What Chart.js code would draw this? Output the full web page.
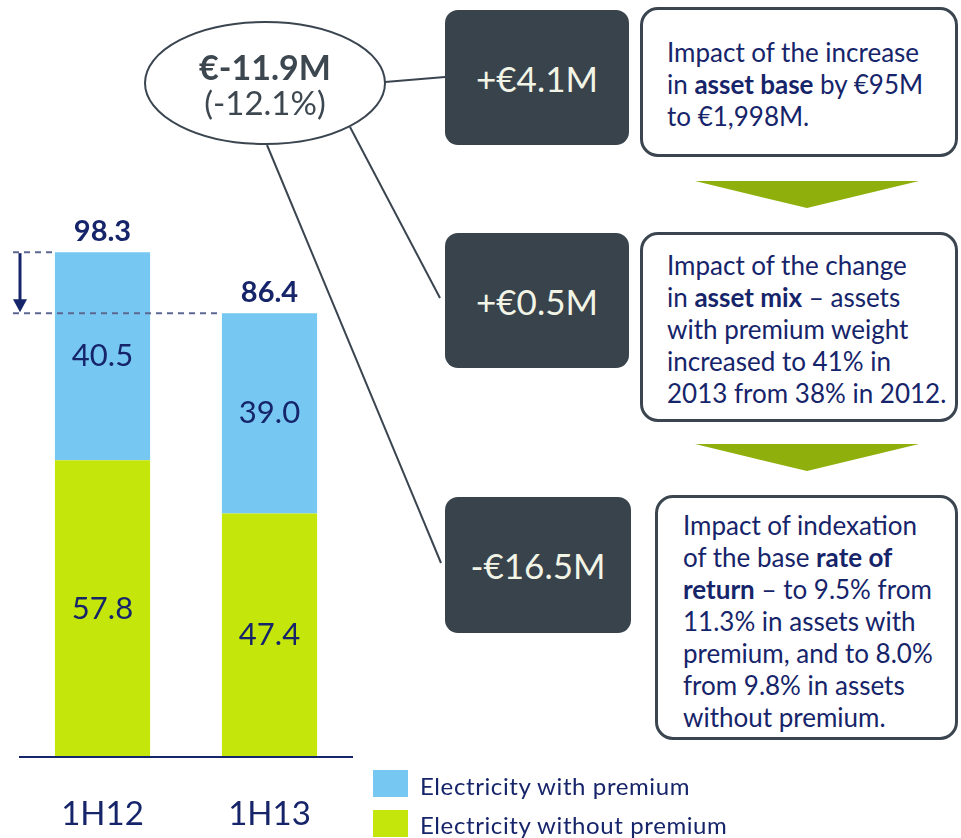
<!DOCTYPE html>
<html>
<head>
<meta charset="utf-8">
<script src="https://cdn.jsdelivr.net/npm/chart.js@4.4.1/dist/chart.umd.min.js"></script>
<style>
body{margin:0;background:#fff;font-family:"Lato",sans-serif;}
#wrap{position:relative;width:961px;height:838px;overflow:hidden;}
#myChart{position:absolute;left:0;top:0;}
#overlay{position:absolute;left:0;top:0;}
.dark{position:absolute;background:#39434c;border-radius:13px;color:#f2f5e6;font-size:35px;
  display:flex;align-items:center;justify-content:center;}
.note{position:absolute;box-sizing:border-box;border:3px solid #3a4550;border-radius:18px;background:#fff;
  color:#16246a;font-size:26px;line-height:32px;}
.note b{font-weight:bold;}
.ell{position:absolute;color:#3d4750;text-align:center;width:240px;left:145px;}
.leg{position:absolute;left:373px;width:35px;height:27px;}
.legtxt{position:absolute;left:420px;color:#16246a;font-size:24px;letter-spacing:0.6px;line-height:27px;}
</style>
</head>
<body>
<div id="wrap">
<canvas id="myChart" width="961" height="838"></canvas>
<svg id="overlay" width="961" height="838">
  <line x1="385" y1="82" x2="445" y2="77" stroke="#3a4550" stroke-width="2"/>
  <line x1="350" y1="127" x2="440" y2="298" stroke="#3a4550" stroke-width="2"/>
  <line x1="267" y1="145" x2="441" y2="563" stroke="#3a4550" stroke-width="2"/>
  <ellipse cx="265" cy="83" rx="120" ry="61" fill="#fff" stroke="#3a4550" stroke-width="2"/>
  <polygon points="695,181 919,181 807,208" fill="#8fb00c"/>
  <polygon points="695,444 919,444 807,471" fill="#8fb00c"/>
</svg>
<div class="ell" style="top:46px;font-size:34px;font-weight:bold;line-height:42px;">€-11.9M</div>
<div class="ell" style="top:82px;font-size:33px;line-height:40px;">(-12.1%)</div>

<div class="dark" style="left:445px;top:10px;width:184px;height:135px;">+€4.1M</div>
<div class="dark" style="left:445px;top:233px;width:184px;height:135px;">+€0.5M</div>
<div class="dark" style="left:445px;top:497px;width:186px;height:136px;">-€16.5M</div>

<div class="note" style="left:640px;top:7px;width:318px;height:150px;padding:26px 0 0 24px;">
Impact of the increase<br>in <b>asset base</b> by €95M<br>to €1,998M.</div>
<div class="note" style="left:640px;top:232px;width:318px;height:190px;padding:14px 0 0 24px;">
Impact of the change<br>in <b>asset mix</b> – assets<br>with premium weight<br>increased to 41% in<br>2013 from 38% in 2012.</div>
<div class="note" style="left:655px;top:495px;width:303px;height:245px;padding:11px 0 0 25px;">
Impact of indexation<br>of the base <b>rate of<br>return</b> – to 9.5% from<br>11.3% in assets with<br>premium, and to 8.0%<br>from 9.8% in assets<br>without premium.</div>

<div class="leg" style="top:770px;background:#76c7f2;"></div>
<div class="legtxt" style="top:772px;">Electricity with premium</div>
<div class="leg" style="top:810px;background:#c5e60a;"></div>
<div class="legtxt" style="top:811px;">Electricity without premium</div>
</div>

<script>
//chart data
var categories = ["1H12", "1H13"];
var withoutPremium = [57.8, 47.4];
var withPremium = [40.5, 39.0];
var totals = [98.3, 86.4];
var navy = '#16246a';

//draws the value labels, the base line, the category names and the drop marker
var labelsPlugin = {
	id: 'labelsPlugin',
	afterDatasetsDraw: function(chart){
		var ctx = chart.ctx;
		var x = chart.scales.x;
		var y = chart.scales.y;
		var area = chart.chartArea;
		ctx.save();
		ctx.fillStyle = navy;
		ctx.textAlign = 'center';
		ctx.textBaseline = 'middle';

		//values inside the bars
		ctx.font = '31px Lato';
		for(var d = 0; d < chart.data.datasets.length; d++)
		{
			var meta = chart.getDatasetMeta(d);
			meta.data.forEach(function(bar, i){
				ctx.fillText(chart.data.datasets[d].data[i].toFixed(1), bar.x, (bar.y + bar.base) / 2);
			});
		}

		//totals on top
		ctx.font = 'bold 29px Lato';
		for(var i = 0; i < totals.length; i++)
		{
			ctx.fillText(totals[i].toFixed(1), x.getPixelForValue(i), y.getPixelForValue(totals[i]) - 21);
		}

		//category names
		ctx.font = '33px Lato';
		for(var i = 0; i < categories.length; i++)
		{
			ctx.fillText(categories[i], x.getPixelForValue(i), area.bottom + 57);
		}

		//base line
		ctx.strokeStyle = navy;
		ctx.lineWidth = 2;
		ctx.beginPath();
		ctx.moveTo(area.left, area.bottom);
		ctx.lineTo(area.right, area.bottom);
		ctx.stroke();

		//dashed lines from each total
		var bars = chart.getDatasetMeta(1).data;
		var y1 = y.getPixelForValue(totals[0]);
		var y2 = y.getPixelForValue(totals[1]);
		ctx.strokeStyle = '#5c6892';
		ctx.lineWidth = 2;
		ctx.setLineDash([6, 5]);
		ctx.beginPath();
		ctx.moveTo(13, y1);
		ctx.lineTo(bars[0].x - bars[0].width / 2, y1);
		ctx.moveTo(13, y2);
		ctx.lineTo(bars[1].x - bars[1].width / 2, y2);
		ctx.stroke();
		ctx.setLineDash([]);

		//arrow down
		ctx.strokeStyle = navy;
		ctx.lineWidth = 3;
		ctx.beginPath();
		ctx.moveTo(20, y1 + 1);
		ctx.lineTo(20, y2 - 12);
		ctx.stroke();
		ctx.beginPath();
		ctx.moveTo(13, y2 - 14);
		ctx.lineTo(27, y2 - 14);
		ctx.lineTo(20, y2 - 1);
		ctx.closePath();
		ctx.fill();
		ctx.restore();
	}
};

var ctx = document.getElementById("myChart");
var myBarChart = new Chart(ctx, {
	type: 'bar',
	data: {
		labels: categories,
		datasets: [
			{
				label: 'Electricity without premium',
				backgroundColor: '#c5e60a',
				categoryPercentage: 1,
				barPercentage: 0.57,
				data: withoutPremium
			},
			{
				label: 'Electricity with premium',
				backgroundColor: '#76c7f2',
				categoryPercentage: 1,
				barPercentage: 0.57,
				data: withPremium
			}
		]
	},
	options: {
		responsive: false,
		animation: false,
		layout: {padding: {left: 19, right: 608, top: 0, bottom: 81}},
		plugins: {legend: {display: false}, tooltip: {enabled: false}},
		scales: {
			x: {stacked: true, display: false},
			y: {stacked: true, display: false, min: 0, max: 147.4}
		}
	},
	plugins: [labelsPlugin]
});
</script>
</body>
</html>
